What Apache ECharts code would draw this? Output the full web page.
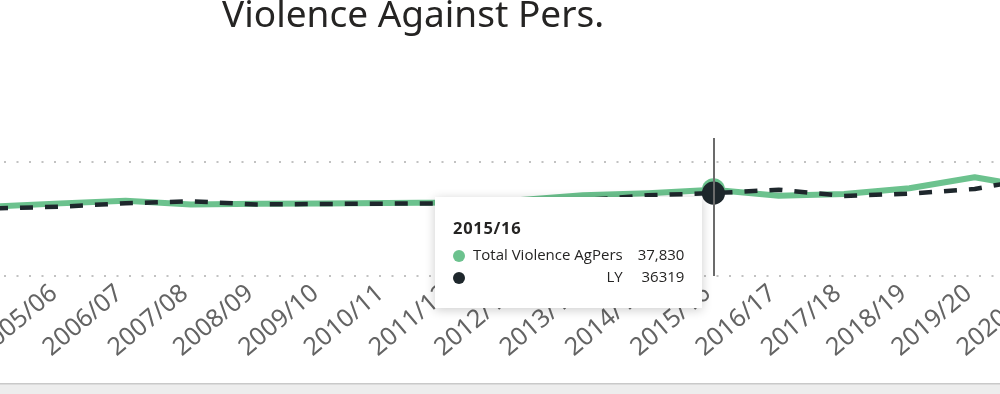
<!DOCTYPE html>
<html>
<head>
<meta charset="utf-8">
<script src="https://cdn.jsdelivr.net/npm/echarts@6/dist/echarts.min.js"></script>
<style>
html,body{margin:0;padding:0;background:#fff;}
#chart{width:1000px;height:394px;position:relative;}
</style>
</head>
<body>
<div id="chart"></div>
<script>
// ---- data ----
const years = ["2004/05","2005/06","2006/07","2007/08","2008/09","2009/10","2010/11","2011/12","2012/13","2013/14","2014/15","2015/16","2016/17","2017/18","2018/19","2019/20","2020/21"];
const totalViolence = [30480,31840,32950,31360,31650,31750,31950,32240,33200,35400,36319,37830,35220,35960,38470,43290,38380];
const lastYear = [29600,30400,31890,32760,31360,31580,31710,31890,32200,33200,35390,36319,37830,35090,36100,38160,43300];
const titleText = "Violence Against Pers.";
const seriesNames = ["Total Violence AgPers","LY"];
const highlightYear = "2015/16";

const GREEN = '#6cc28e';
const DARK = '#1e272c';
const hi = years.indexOf(highlightYear);

function withMarker(arr, color) {
  return arr.map((v, i) => i === hi ? {value: v, symbol: 'circle', symbolSize: 21, itemStyle: {color: color, opacity: 1}} : v);
}

const chart = echarts.init(document.getElementById('chart'), null, {renderer: 'canvas'});
chart.setOption({
  animation: false,
  backgroundColor: '#ffffff',
  title: {
    text: titleText,
    left: 217, top: -7,
    textStyle: {fontFamily: 'Noto Sans', fontSize: 37, fontWeight: 'normal', color: '#252423'}
  },
  grid: {left: -5, right: -40, top: 138, bottom: 118, containLabel: false, outerBoundsMode: 'none'},
  tooltip: {
    trigger: 'axis',
    triggerOn: 'none',
    alwaysShowContent: true,
    transitionDuration: 0,
    showDelay: 0,
    confine: false,
    position: [435, 197],
    padding: 0,
    borderWidth: 0,
    backgroundColor: '#ffffff',
    extraCssText: 'box-shadow:0 2px 10px rgba(0,0,0,0.2);border-radius:0;width:267px;height:111px;box-sizing:border-box;',
    axisPointer: {
      type: 'line',
      lineStyle: {color: '#6b6b6b', width: 2, type: 'solid'}
    },
    formatter: function (params) {
      const t = params[0].axisValue;
      const a = params.find(p => p.seriesIndex === 0);
      const b = params.find(p => p.seriesIndex === 1);
      const fmtA = Number(a.value).toLocaleString('en-US');
      const fmtB = String(b.value);
      const dot = c => '<span style="display:inline-block;width:12px;height:12px;border-radius:6px;background:' + c + ';vertical-align:middle;"></span>';
      return '<div style="font-family:\'Open Sans\',sans-serif;color:#252423;padding:20px 0 0 18px;">' +
        '<div style="font-weight:bold;font-size:16.5px;letter-spacing:0.7px;line-height:22px;margin-bottom:4px;">' + t + '</div>' +
        '<table style="border-collapse:collapse;font-size:15px;line-height:22px;">' +
        '<tr><td style="padding:0;width:20px;vertical-align:middle;">' + dot(GREEN) + '</td>' +
        '<td style="padding:0;text-align:right;">' + a.seriesName + '</td>' +
        '<td style="padding:0 0 0 15px;text-align:right;">' + fmtA + '</td></tr>' +
        '<tr><td style="padding:0;vertical-align:middle;">' + dot(DARK) + '</td>' +
        '<td style="padding:0;text-align:right;">' + b.seriesName + '</td>' +
        '<td style="padding:0 0 0 15px;text-align:right;">' + fmtB + '</td></tr>' +
        '</table></div>';
    }
  },
  xAxis: {
    type: 'category',
    data: years,
    boundaryGap: false,
    axisLine: {show: false},
    axisTick: {show: false},
    axisLabel: {
      rotate: 40,
      interval: 0,
      margin: 9,
      padding: [0, 8, 0, 0],
      fontFamily: 'Noto Sans',
      fontSize: 25,
      color: '#646464'
    },
    splitLine: {show: false}
  },
  yAxis: {
    type: 'value',
    min: 0,
    max: 60500,
    interval: 50000,
    axisLabel: {show: false},
    axisLine: {show: false},
    axisTick: {show: false},
    splitLine: {
      show: true,
      showMaxLine: false,
      lineStyle: {color: '#c2c2c2', width: 2, type: [2, 10.5], dashOffset: 3.5}
    }
  },
  series: [
    {
      name: seriesNames[0],
      type: 'line',
      data: withMarker(totalViolence, GREEN),
      symbol: 'none',
      showSymbol: true,
      lineStyle: {color: GREEN, width: 6, cap: 'round', join: 'round'},
      itemStyle: {color: GREEN},
      emphasis: {disabled: true},
      z: 2
    },
    {
      name: seriesNames[1],
      type: 'line',
      data: withMarker(lastYear, DARK),
      symbol: 'none',
      showSymbol: true,
      lineStyle: {color: DARK, width: 4.5, type: [13, 12]},
      itemStyle: {color: DARK},
      emphasis: {disabled: true},
      z: 3
    }
  ],
  graphic: [
    {type: 'rect', left: 0, top: 384, shape: {width: 1000, height: 10}, style: {fill: '#ededed'}, silent: true},
    {type: 'rect', left: 0, top: 383, shape: {width: 1000, height: 1.5}, style: {fill: '#c9c9c9'}, silent: true}
  ]
});
chart.dispatchAction({type: 'showTip', seriesIndex: 0, dataIndex: hi});
</script>
</body>
</html>
